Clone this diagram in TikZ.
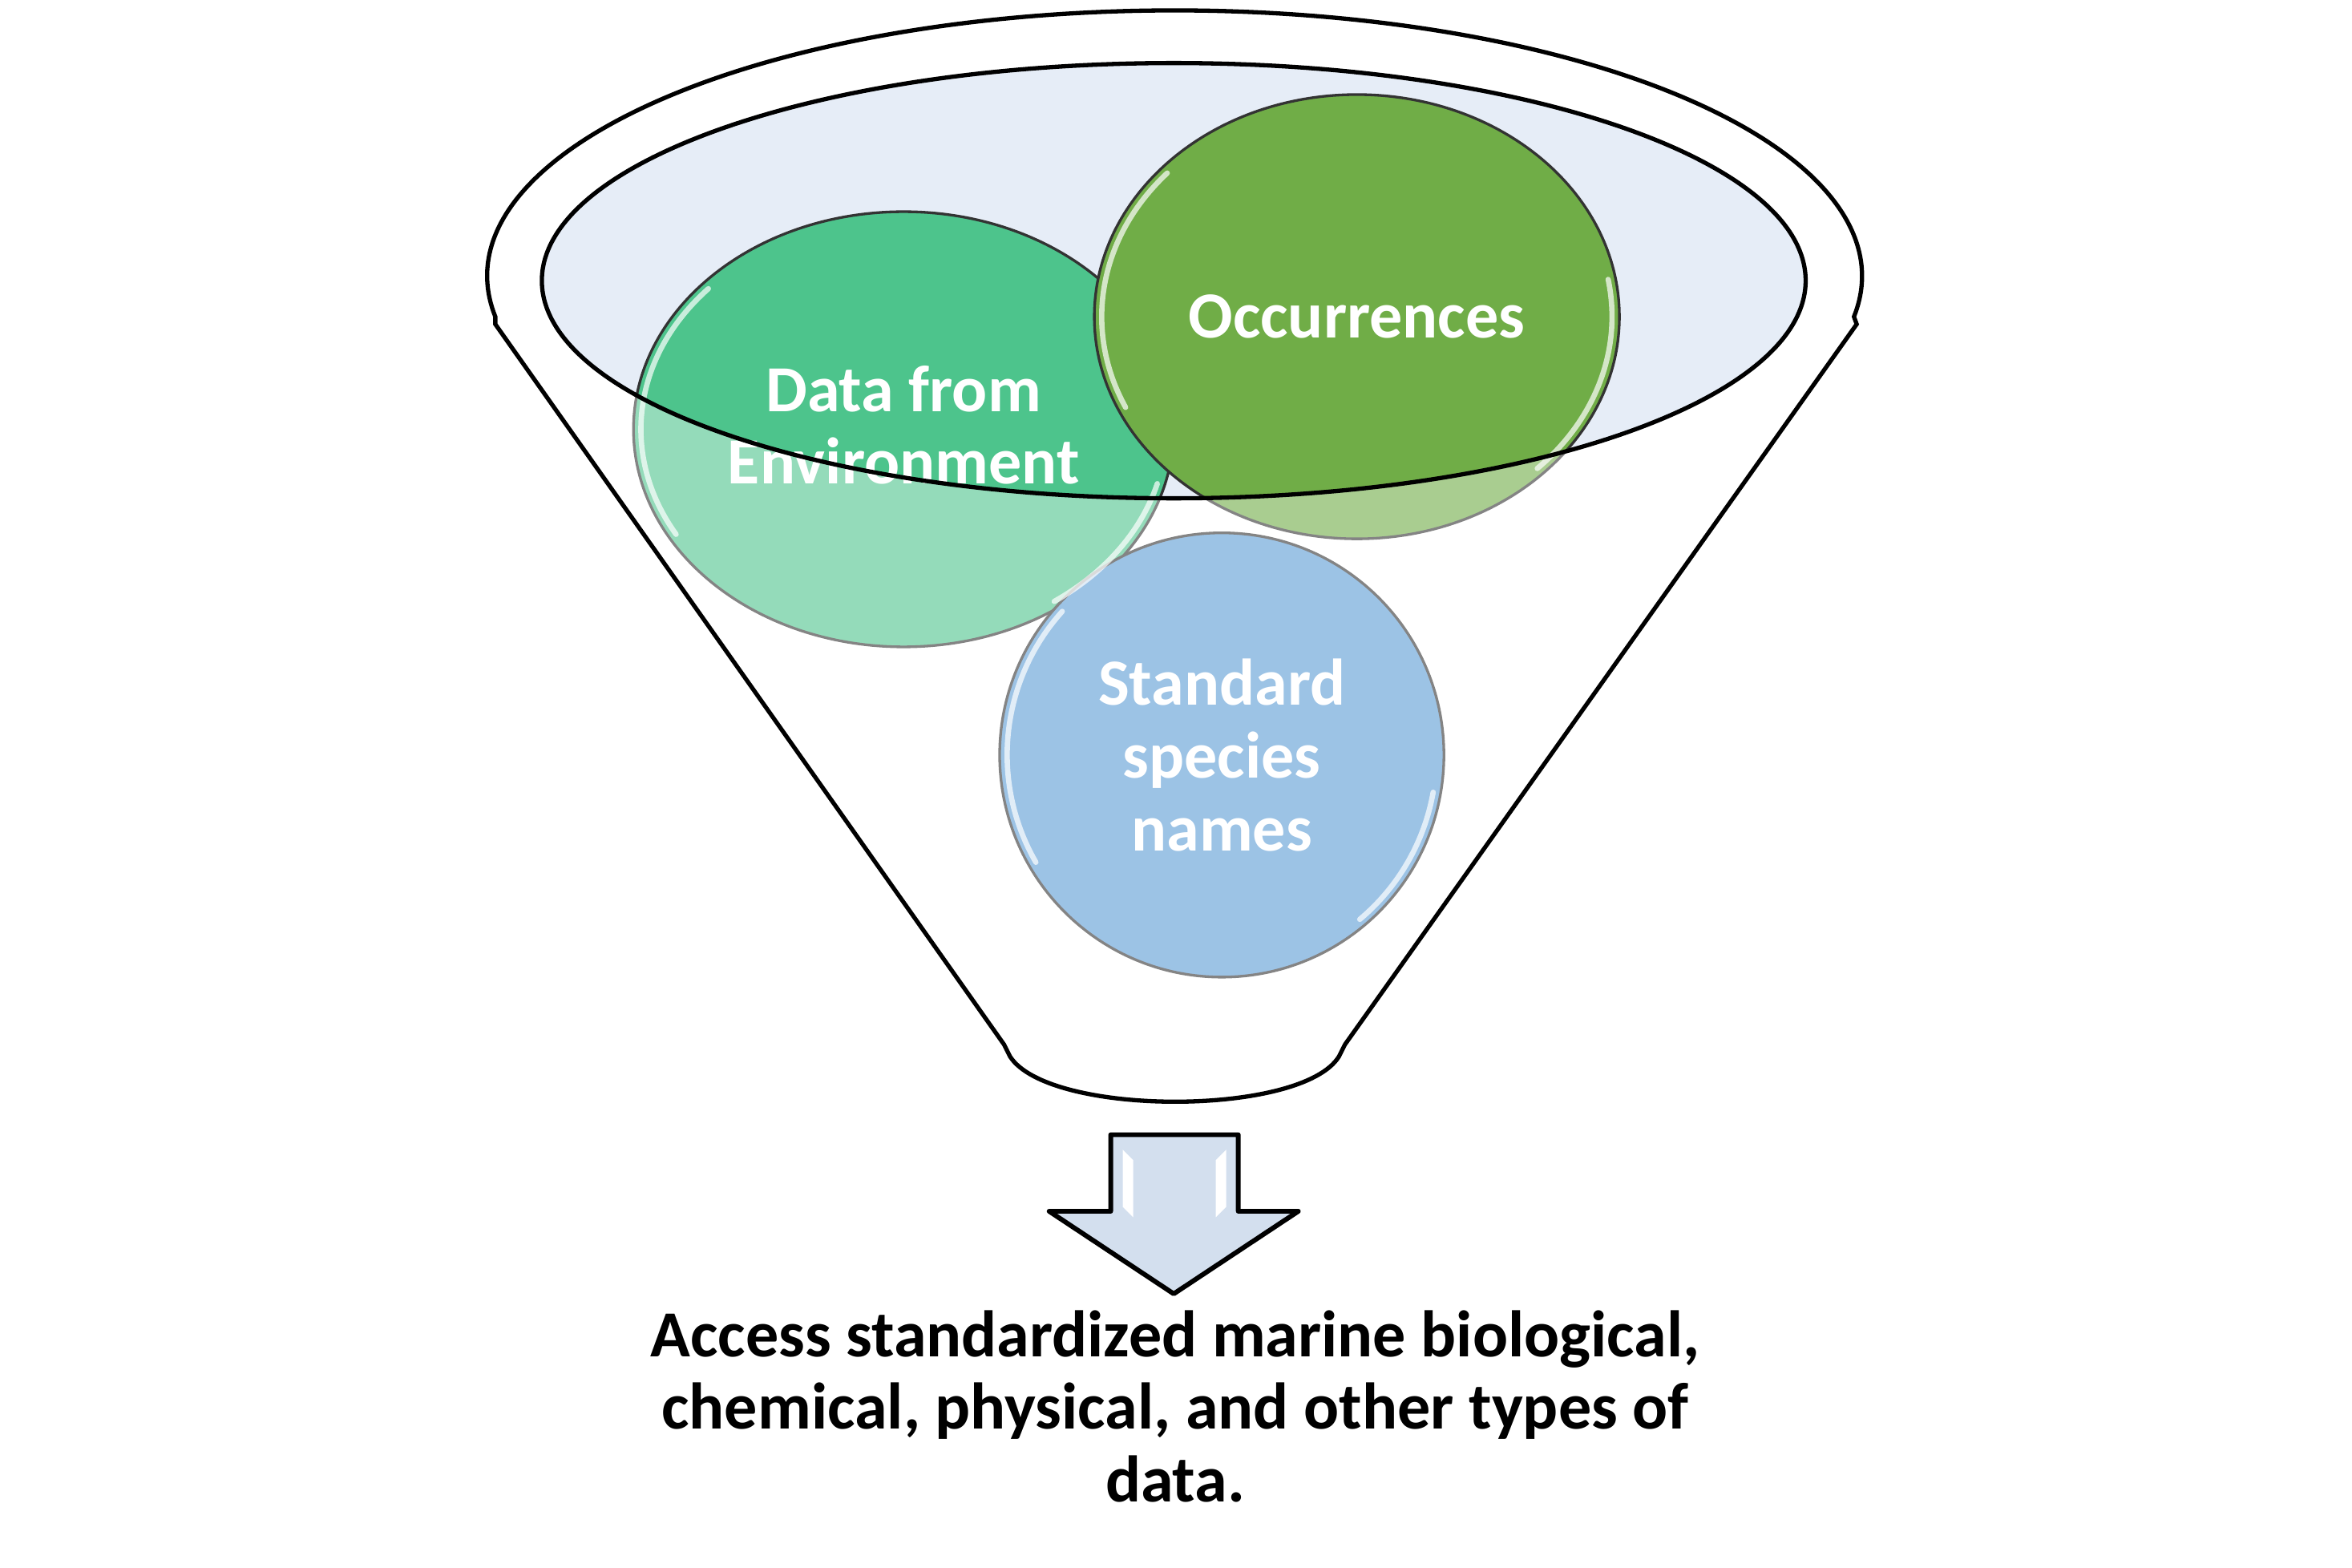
\documentclass[tikz,border=0pt]{standalone}
\usepackage{fontspec}
\setmainfont{Carlito}
\usetikzlibrary{shapes}

\definecolor{bowl}{HTML}{E6EDF7}
\definecolor{envgreen}{HTML}{4DC48C}
\definecolor{occgreen}{HTML}{70AD47}
\definecolor{namesblue}{HTML}{5B9BD5}
\definecolor{arrowblue}{HTML}{D3DFEE}

\begin{document}
\begin{tikzpicture}[x=0.00993cm,y=-0.00993cm]
\tikzstyle{bubble}=[
	ellipse,
	draw=black!80,
	line width=0.5pt,
	inner sep=0pt,
	text=white,
	align=center,
	font=\bfseries\fontsize{12.4}{13.7}\selectfont ]
\tikzstyle{gloss}=[white, line width=1pt, line cap=round, opacity=0.7]
\useasboundingbox (1,1) rectangle (1568,1045.3);
% bowl
\fill[bowl] (783,188) ellipse [x radius=421, y radius=145];
% the three inputs
\node[bubble, fill=envgreen, minimum width=3.575cm, minimum height=2.88cm] (env) at (603,287) {Data from\\Environment\\[-12pt]};
\node[bubble, fill=occgreen, minimum width=3.475cm, minimum height=2.94cm] (occ) at (905,212) {Occurrences};
\node[bubble, fill=namesblue, minimum width=2.94cm, minimum height=2.94cm] (names) at (815,504) {Standard\\species\\names};
\begin{scope}[shift={(env.center)}]
\draw[gloss] (222:175 and 140) arc[start angle=222, end angle=150, x radius=175, y radius=140];
\draw[gloss] (15:175 and 140) arc[start angle=15, end angle=55, x radius=175, y radius=140];
\end{scope}
\begin{scope}[shift={(occ.center)}]
\draw[gloss] (222:170 and 143) arc[start angle=222, end angle=155, x radius=170, y radius=143];
\draw[gloss] (-10:170 and 143) arc[start angle=-10, end angle=45, x radius=170, y radius=143];
\end{scope}
\begin{scope}[shift={(names.center)}]
\draw[gloss] (222:143 and 143) arc[start angle=222, end angle=150, x radius=143, y radius=143];
\draw[gloss] (10:143 and 143) arc[start angle=10, end angle=50, x radius=143, y radius=143];
\end{scope}
% funnel body over the inputs
\path[draw=black, line width=0.8pt, fill=white, fill opacity=0.4, even odd rule]
	(331,212) arc[start angle=171.2, end angle=368.8, x radius=458, y radius=177]
	-- (1238,217) -- (897,697) -- (893,705)
	.. controls (868,745) and (700,745) .. (674,705) -- (670,697) -- (331,217) -- cycle
	(783,188) ellipse [x radius=421, y radius=145];
% outlet arrow
\draw[fill=arrowblue, line width=0.9pt, line join=round]
	(741,757) -- (826,757) -- (826,808) -- (866,808) -- (783,863) -- (700,808) -- (741,808) -- cycle;
\fill[white] (749,767) -- (756,774) -- (756,812) -- (749,805) -- cycle;
\fill[white] (818,767) -- (811,774) -- (811,812) -- (818,805) -- cycle;
% result
\node[align=center, font=\bfseries\fontsize{12.4}{13.7}\selectfont] (result) at (784,938)
	{Access standardized marine biological,\\chemical, physical, and other types of\\data.};
\end{tikzpicture}
\end{document}
